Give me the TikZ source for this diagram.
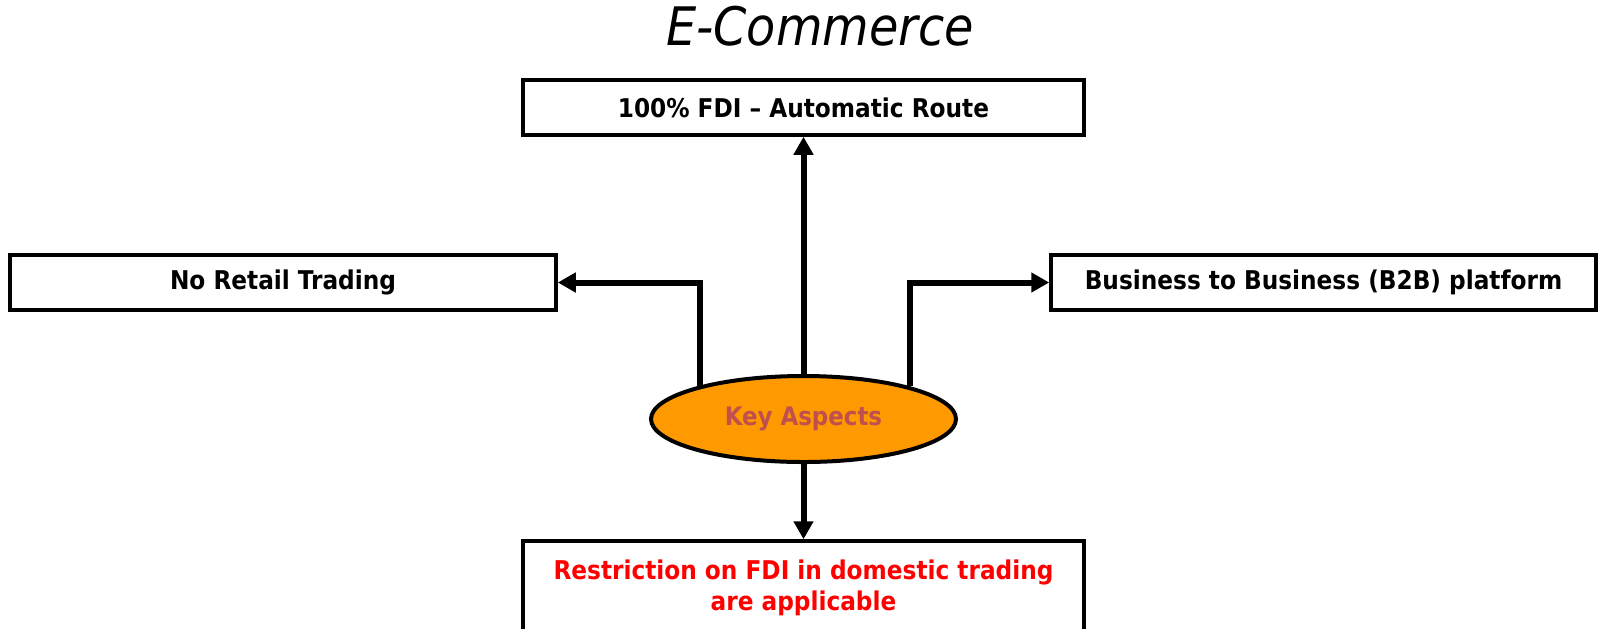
\documentclass[tikz,border=0pt]{standalone}
\usepackage{fontspec}
\setsansfont{DejaVu Sans Condensed}
\usetikzlibrary{arrows.meta,shapes.geometric}
\definecolor{keyorange}{HTML}{FF9900}
\definecolor{keytext}{HTML}{C0504D}
\tikzset{
  box/.style={draw, line width=0.7mm, minimum height=11mm, inner sep=0pt, align=center,
    font=\sffamily\bfseries\fontsize{14.7}{17.4}\selectfont},
  arr/.style={line width=1.2mm, -{Triangle[length=3.6mm, width=3.8mm]}},
}
\begin{document}
\begin{tikzpicture}[x=0.2mm, y=-0.2mm]
  \useasboundingbox (0,0) rectangle (1600,628);
  %title
  \node[anchor=base, font=\sffamily\itshape\fontsize{30.2}{34}\selectfont] (title) at (820,45) {E-Commerce};
  %boxes
  \node[box, minimum width=112.2mm] (fdi) at (803.5,107.5) {100\% FDI -- Automatic Route};
  \node[box, minimum width=109.2mm] (noretail) at (283,282.5) {No Retail Trading};
  \node[box, minimum width=109mm] (btob) at (1323.5,282.5) {Business to Business (B2B) platform};
  \node[box, minimum width=112.2mm, minimum height=18.8mm, text=red] (restr) at (803.5,588)
    {Restriction on FDI in domestic trading\\are applicable};
  %center
  \node[ellipse, draw, line width=0.8mm, fill=keyorange, minimum width=61mm, minimum height=17.2mm,
    inner sep=0pt, text=keytext, font=\sffamily\bfseries\fontsize{14.5}{17}\selectfont] (ka) at (803.5,419) {Key Aspects};
  %arrows
  \draw[arr] (ka) -- (fdi);
  \draw[arr] (ka) -- (restr);
  \draw[arr] (ka.162.5) |- (noretail);
  \draw[arr] (ka.17.5) |- (btob);
\end{tikzpicture}
\end{document}
